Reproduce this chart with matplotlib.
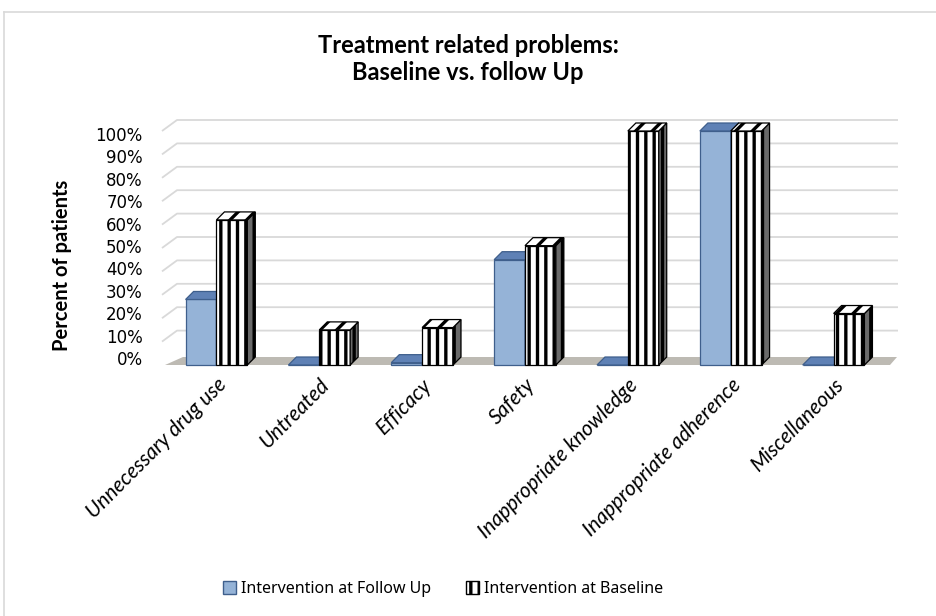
import matplotlib.pyplot as plt
from matplotlib.lines import Line2D
from matplotlib.patches import Polygon, Patch

categories = ["Unnecessary drug use", "Untreated", "Efficacy", "Safety",
              "Inappropriate knowledge", "Inappropriate adherence", "Miscellaneous"]
follow_up = [28, 0, 1, 45, 0, 100, 0]
baseline = [62, 15, 16, 51, 100, 100, 22]
pct_ticks = [0, 10, 20, 30, 40, 50, 60, 70, 80, 90, 100]

W, H = 936, 616
# plot area in pixels (front plane of the 3d box)
AX_L, AX_R, AX_B, AX_T = 165, 885, 365, 131
PX_X = (AX_R - AX_L) / len(categories)   # pixels per category
PX_Y = (AX_B - AX_T) / 100.0             # pixels per percent

BAR_DX, BAR_DY = 8 / PX_X, 8 / PX_Y      # bar depth
BW = 0.3

plt.rcParams['hatch.linewidth'] = 2.4


def bar3d(ax, x0, h, front, top, side, edge, hatch_front=None, hatch_top=None,
          hatch_side=None, z=3):
    ax.bar(x0, h, BW, align='edge', color=front, edgecolor=edge, linewidth=0.9,
           hatch=hatch_front, zorder=z, clip_on=False)
    top_face = [(x0, h), (x0 + BW, h), (x0 + BW + BAR_DX, h + BAR_DY), (x0 + BAR_DX, h + BAR_DY)]
    side_face = [(x0 + BW, 0), (x0 + BW + BAR_DX, BAR_DY), (x0 + BW + BAR_DX, h + BAR_DY), (x0 + BW, h)]
    ax.add_patch(Polygon(side_face, closed=True, facecolor=side, edgecolor=edge, lw=0.9,
                         hatch=hatch_side, zorder=z, clip_on=False))
    ax.add_patch(Polygon(top_face, closed=True, facecolor=top, edgecolor=edge, lw=0.9,
                         hatch=hatch_top, zorder=z, clip_on=False))


fig = plt.figure(figsize=(W / 100, H / 100), dpi=100)
ax = fig.add_axes([AX_L / W, 1 - AX_B / H, (AX_R - AX_L) / W, (AX_B - AX_T) / H])
ax.set_xlim(-0.5, len(categories) - 0.5)
ax.set_ylim(0, 100)
for s in ax.spines.values():
    s.set_visible(False)

# back wall gridlines with the short slanted lead-in on the left
wall_dx, wall_dy = 15 / PX_X, 11 / PX_Y
x_front = -0.5 - 3 / PX_X
x_end = len(categories) - 0.5 + 13 / PX_X
for v in pct_ticks[1:]:
    ax.plot([x_front, x_front + wall_dx, x_end], [v, v + wall_dy, v + wall_dy],
            color='#d9d9d9', lw=1.3, zorder=1, clip_on=False, solid_capstyle='butt')

# floor
floor_dy = 8 / PX_Y
floor = [(-0.5, 0), (len(categories) - 0.5 + 5 / PX_X, 0),
         (len(categories) - 0.5 + 12 / PX_X, floor_dy), (-0.5 + 18 / PX_X, floor_dy)]
ax.add_patch(Polygon(floor, closed=True, facecolor='#bdbab3', edgecolor='none',
                     zorder=2, clip_on=False))

for i in range(len(categories)):
    bar3d(ax, i - BW, follow_up[i], '#95b3d7', '#5f81b5', '#6a8cbd', '#3f5f8c')
    bar3d(ax, i, baseline[i], 'white', 'white', '#6a6a6a', 'black',
          hatch_front='||', hatch_top='//', hatch_side='||', z=4)

# y tick labels follow the wall's left edge
tick_pos = [(7 + 2.24 * v) / PX_Y for v in pct_ticks]
ax.set_yticks(tick_pos)
ax.set_yticklabels([f"{v}%" for v in pct_ticks], fontsize=12, family='DejaVu Sans')
ax.tick_params(axis='y', length=0, pad=16)

ax.set_xticks(range(len(categories)))
ax.set_xticklabels(categories, rotation=45, ha='right', rotation_mode='anchor',
                   fontsize=15, family='Lato', style='italic')
ax.tick_params(axis='x', length=0, pad=7)

fig.text(468 / W, 1 - 59 / H, "Treatment related problems:\nBaseline vs. follow Up",
         ha='center', va='center', fontsize=17, weight='bold', linespacing=1.25,
         family='Lato')
fig.text(62 / W, 1 - 265 / H, "Percent of patients", rotation=90, ha='center', va='center',
         fontsize=14.5, weight='bold', family='Lato')

handles = [Patch(facecolor='#95b3d7', edgecolor='#3f5f8c', label='Intervention at Follow Up'),
           Patch(facecolor='white', edgecolor='black', hatch='||', label='Intervention at Baseline')]
fig.legend(handles=handles, loc='center', bbox_to_anchor=(443 / W, 1 - 589 / H), ncol=2,
           frameon=False, handlelength=0.8, handleheight=0.8, handletextpad=0.3,
           columnspacing=2.2, prop={'family': 'Noto Sans', 'size': 11.5})

# outer chart border (top and left edges show)
fig.add_artist(Line2D([4 / W, 4 / W], [0, 1 - 12 / H], color='#d9d9d9', lw=1.2))
fig.add_artist(Line2D([4 / W, 1], [1 - 12 / H, 1 - 12 / H], color='#d9d9d9', lw=1.2))

fig.savefig("out.png", dpi=100)
